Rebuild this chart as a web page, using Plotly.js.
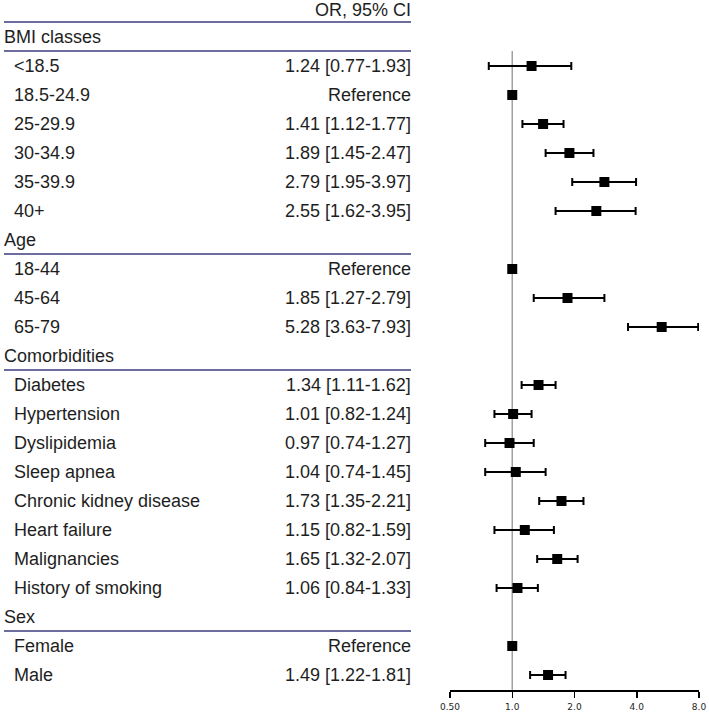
<!DOCTYPE html>
<html><head><meta charset="utf-8">
<script src="https://cdn.plot.ly/plotly-3.0.1.min.js"></script>
<style>html,body{margin:0;padding:0;background:#fff}#chart{width:709px;height:714px}</style>
</head><body><div id="chart"></div>
<script>
// Rows (top to bottom); kind: 'g' = group heading, 'r' = reference level, 'v' = estimate
const labels = ["BMI classes","<18.5","18.5-24.9","25-29.9","30-34.9","35-39.9","40+",
  "Age","18-44","45-64","65-79",
  "Comorbidities","Diabetes","Hypertension","Dyslipidemia","Sleep apnea","Chronic kidney disease","Heart failure","Malignancies","History of smoking",
  "Sex","Female","Male"];
const kinds = ["g","v","r","v","v","v","v",
  "g","r","v","v",
  "g","v","v","v","v","v","v","v","v",
  "g","r","v"];
const orVals = [null,1.24,1,1.41,1.89,2.79,2.55,
  null,1,1.85,5.28,
  null,1.34,1.01,0.97,1.04,1.73,1.15,1.65,1.06,
  null,1,1.49];
const ciLow = [null,0.77,null,1.12,1.45,1.95,1.62,
  null,null,1.27,3.63,
  null,1.11,0.82,0.74,0.74,1.35,0.82,1.32,0.84,
  null,null,1.22];
const ciHigh = [null,1.93,null,1.77,2.47,3.97,3.95,
  null,null,2.79,7.93,
  null,1.62,1.24,1.27,1.45,2.21,1.59,2.07,1.33,
  null,null,1.81];
const columnHeader = "OR, 95% CI";
const refText = "Reference";
const tickVals = [0.5,1,2,4,8];
const tickText = ["0.50","1.0","2.0","4.0","8.0"];

const rowY = labels.map((_, i) => i + 1); // row 0 is the column header
const textColor = "#1e1e1e";
const lineColor = "#3b3b7e";
const F = "Liberation Sans, Arial, sans-serif";

const annotations = [];
const shapes = [];
annotations.push({xref:"x2", yref:"y", x:413, y:0.06, text:columnHeader, showarrow:false, xanchor:"right", yanchor:"middle", font:{family:F,size:18,color:textColor}});
shapes.push({type:"line", xref:"x2", yref:"y", x0:4, x1:411, y0:0.483, y1:0.483, line:{color:lineColor,width:1.5}});
labels.forEach((lab, i) => {
  const y = rowY[i];
  const isG = kinds[i] === "g";
  annotations.push({xref:"x2", yref:"y", x:isG?1.5:12, y:y, text:lab, showarrow:false, xanchor:"left", yanchor:"middle", font:{family:F,size:18,color:textColor}});
  if (isG) {
    shapes.push({type:"line", xref:"x2", yref:"y", x0:4, x1:411, y0:y+0.483, y1:y+0.483, line:{color:lineColor,width:1.5}});
  } else {
    const t = kinds[i] === "r" ? refText : orVals[i].toFixed(2) + " [" + ciLow[i].toFixed(2) + "-" + ciHigh[i].toFixed(2) + "]";
    annotations.push({xref:"x2", yref:"y", x:413, y:y, text:t, showarrow:false, xanchor:"right", yanchor:"middle", font:{family:F,size:18,color:textColor}});
  }
});
// reference line at OR = 1
shapes.push({type:"line", xref:"x", yref:"y", x0:1, x1:1, y0:rowY[1]-0.517, y1:23.517, line:{color:"#a0a0a0",width:1.5}, layer:"below"});

const vi = kinds.map((k,i)=>k==="v"?i:-1).filter(i=>i>=0);
const ri = kinds.map((k,i)=>k==="r"?i:-1).filter(i=>i>=0);

const traces = [
  {type:"scatter", mode:"markers", xaxis:"x", yaxis:"y",
   x: vi.map(i=>orVals[i]), y: vi.map(i=>rowY[i]),
   marker:{symbol:"square", size:10, color:"#000"},
   error_x:{type:"data", symmetric:false, array: vi.map(i=>ciHigh[i]-orVals[i]), arrayminus: vi.map(i=>orVals[i]-ciLow[i]), color:"#000", thickness:2, width:4},
   hoverinfo:"x"},
  {type:"scatter", mode:"markers", xaxis:"x", yaxis:"y",
   x: ri.map(i=>orVals[i]), y: ri.map(i=>rowY[i]),
   marker:{symbol:"square", size:10, color:"#000"}, hoverinfo:"x"}
];

const layout = {
  width:709, height:714,
  margin:{l:0, r:10, t:0, b:24, pad:0},
  paper_bgcolor:"#fff", plot_bgcolor:"#fff",
  showlegend:false,
  xaxis:{type:"log", domain:[450/699,1], range:[Math.log10(0.5), Math.log10(8)],
    tickvals:tickVals, ticktext:tickText, showgrid:false, zeroline:false,
    showline:true, linecolor:"#000", linewidth:1.5, ticks:"outside", ticklen:6, tickwidth:1.5, tickcolor:"#000",
    ticklabelstandoff:2,
    tickfont:{family:"DejaVu Sans, sans-serif", size:9, color:textColor}, fixedrange:true},
  xaxis2:{domain:[0,420/699], range:[0,420], visible:false, anchor:"y", fixedrange:true},
  yaxis:{range:[23.517,-0.276], visible:false, fixedrange:true},
  annotations: annotations,
  shapes: shapes
};
Plotly.newPlot("chart", traces, layout, {displayModeBar:false, staticPlot:true});
</script></body></html>
